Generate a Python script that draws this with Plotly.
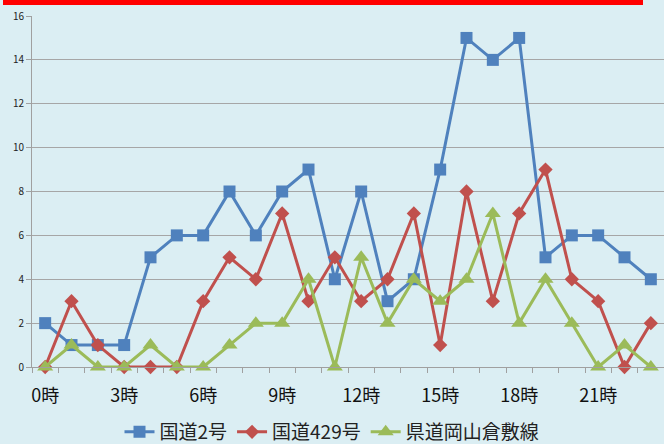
import plotly.graph_objects as go

hours = list(range(24))
tick_hours = [0, 3, 6, 9, 12, 15, 18, 21]
tick_labels = ["0時", "3時", "6時", "9時", "12時", "15時", "18時", "21時"]

route2 = [2, 1, 1, 1, 5, 6, 6, 8, 6, 8, 9, 4, 8, 3, 4, 9, 15, 14, 15, 5, 6, 6, 5, 4]
route429 = [0, 3, 1, 0, 0, 0, 3, 5, 4, 7, 3, 5, 3, 4, 7, 1, 8, 3, 7, 9, 4, 3, 0, 2]
prefroad = [0, 1, 0, 0, 1, 0, 0, 1, 2, 2, 4, 0, 5, 2, 4, 3, 4, 7, 2, 4, 2, 0, 1, 0]

names = ["国道2号", "国道429号", "県道岡山倉敷線"]
colors = ["#4F81BD", "#C0504D", "#9BBB59"]
symbols = ["square", "diamond", "triangle-up"]
sizes = [12, 11, 14]

fig = go.Figure()
for vals, name, c, s, sz in zip([route2, route429, prefroad], names, colors, symbols, sizes):
    fig.add_trace(go.Scatter(
        x=hours, y=vals, name=name, mode="lines+markers",
        line=dict(color=c, width=3),
        marker=dict(symbol=s, size=sz, color=c),
        cliponaxis=False,
    ))

font = "Noto Sans CJK JP, Noto Sans, sans-serif"
fig.update_layout(
    width=664, height=444,
    margin=dict(l=32, r=0, t=16, b=77, autoexpand=False),
    paper_bgcolor="#DBEEF3",
    plot_bgcolor="#DBEEF3",
    showlegend=True,
    legend=dict(orientation="h", x=0.5, xanchor="center", xref="container",
                y=0.027, yanchor="middle", yref="container",
                font=dict(family=font, size=19, color="#222"),
                bgcolor="rgba(0,0,0,0)", tracegroupgap=0),
    xaxis=dict(
        range=[-0.5, 23.5], tickmode="array", tickvals=tick_hours, ticktext=tick_labels,
        ticks="", showgrid=False, zeroline=False, automargin=False,
        showline=True, linecolor="#A0A0A0", linewidth=1,
        ticklabelstandoff=12,
        tickfont=dict(family=font, size=18, color="#111"),
        minor=dict(tickmode="array", tickvals=[h - 0.5 for h in range(25)],
                   ticks="outside", ticklen=5, tickcolor="#A0A0A0", showgrid=False),
    ),
    yaxis=dict(
        range=[0, 16], tickmode="array", tickvals=list(range(0, 17, 2)),
        showgrid=True, gridcolor="#A6A6A6", gridwidth=1, zeroline=False, automargin=False,
        showline=True, linecolor="#A0A0A0", linewidth=1,
        ticks="outside", ticklen=5, tickcolor="#A0A0A0",
        tickfont=dict(family=font, size=10, color="#222"),
    ),
    shapes=[dict(type="rect", xref="paper", yref="paper",
                 x0=(3 - 32) / 632, x1=(643 - 32) / 632,
                 y0=(367 - 5) / 351, y1=(367 + 2) / 351,
                 fillcolor="#FF0000", line=dict(width=0), layer="above")],
)

fig.write_html("out.html", config={"displayModeBar": False},
               post_script="document.body.style.margin='0';document.body.style.padding='0';document.body.style.overflow='hidden';")
